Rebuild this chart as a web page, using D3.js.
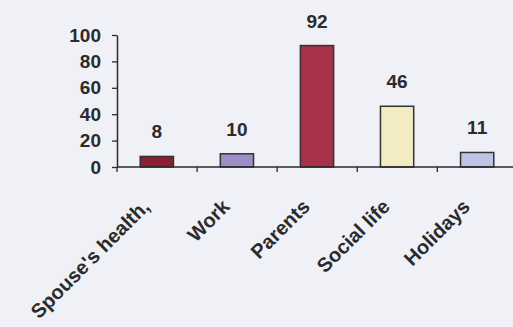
<!DOCTYPE html>
<html>
<head>
<meta charset="utf-8">
<script src="https://cdn.jsdelivr.net/npm/d3@7"></script>
<style>
  html, body { margin: 0; padding: 0; background: #f0f0f7; }
  svg { display: block; }
</style>
</head>
<body>
<svg id="chart" width="513" height="327"></svg>
<script>
const categories = ["Spouse's health,", "Work", "Parents", "Social life", "Holidays"];
const values = [8, 10, 92, 46, 11];
const barColors = ["#8e1f30", "#9c8ec6", "#a8324a", "#f3ebc2", "#bfc3e5"];
const yTicks = [0, 20, 40, 60, 80, 100];

const svg = d3.select("#chart");
const W = 513, H = 327;
svg.append("rect").attr("width", W).attr("height", H).attr("fill", "#f0f0f7");

const x = d3.scaleBand().domain(categories).range([117, 517]).paddingInner(0.585).paddingOuter(0.29);
const y = d3.scaleLinear().domain([0, 100]).range([167, 35]);
const ink = "#2b2b2b";
const font = "'Liberation Sans', Arial, sans-serif";

// y axis
const yAxis = svg.append("g").attr("transform", "translate(117,0)")
  .call(d3.axisLeft(y).tickValues(yTicks).tickSize(5).tickPadding(11).tickSizeOuter(0));
yAxis.select(".domain").attr("stroke", ink).attr("stroke-width", 1.5);
yAxis.selectAll(".tick line").attr("stroke", ink).attr("stroke-width", 1.3);
yAxis.selectAll(".tick text").attr("fill", ink).attr("font-family", font)
  .attr("font-weight", "bold").attr("font-size", 19);

// bars
svg.append("g").selectAll("rect").data(categories).join("rect")
  .attr("x", d => x(d))
  .attr("y", (d, i) => y(values[i]))
  .attr("width", x.bandwidth())
  .attr("height", (d, i) => y(0) - y(values[i]))
  .attr("fill", (d, i) => barColors[i])
  .attr("stroke", "#333")
  .attr("stroke-width", 1.5);

// x axis
const step = x.step();
const xAxis = svg.append("g").attr("transform", `translate(0,${y(0)})`);
xAxis.append("line").attr("x1", 117).attr("x2", 517).attr("y1", 0).attr("y2", 0)
  .attr("stroke", ink).attr("stroke-width", 1.5);
xAxis.selectAll("line.tk").data(d3.range(categories.length + 1)).join("line")
  .attr("class", "tk")
  .attr("x1", i => 117 + i * step).attr("x2", i => 117 + i * step)
  .attr("y1", 0).attr("y2", 5)
  .attr("stroke", ink).attr("stroke-width", 1.3);

// category labels
svg.append("g").selectAll("text").data(categories).join("text")
  .attr("transform", d => `translate(${x(d) + x.bandwidth() / 2 - 6},208) rotate(-45)`)
  .attr("text-anchor", "end")
  .attr("font-family", font).attr("font-weight", "bold").attr("font-size", 20)
  .attr("fill", ink)
  .text(d => d);

// value labels
svg.append("g").selectAll("text").data(categories).join("text")
  .attr("x", d => x(d) + x.bandwidth() / 2)
  .attr("y", (d, i) => y(values[i]) - 18)
  .attr("text-anchor", "middle")
  .attr("font-family", font).attr("font-weight", "bold").attr("font-size", 19)
  .attr("fill", ink)
  .text((d, i) => values[i]);
</script>
</body>
</html>
